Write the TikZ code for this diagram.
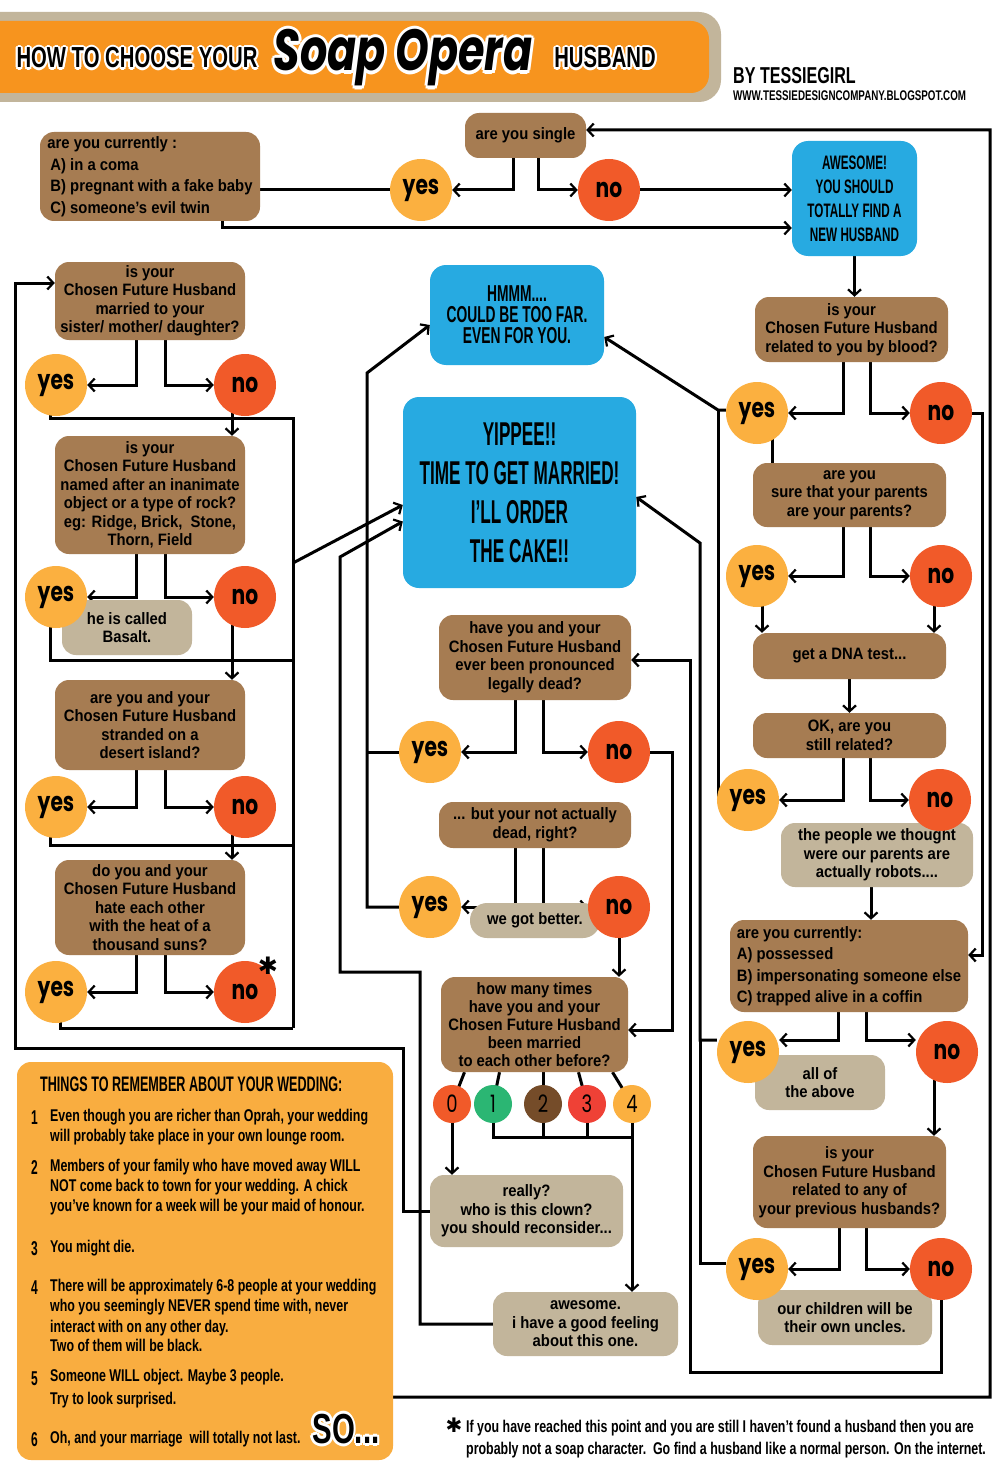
\documentclass[tikz,border=0pt]{standalone}
\usepackage{fontspec}
\setmainfont{Liberation Sans}[FakeStretch=0.9]
\newfontfamily\hfont{Liberation Sans}[FakeStretch=0.6]
\newfontfamily\hfontb{Liberation Sans}[FakeStretch=0.7]
\newfontfamily\yfont{Liberation Sans}[FakeStretch=0.52]
\newfontfamily\pfont{Liberation Sans}[FakeStretch=0.73]
\newfontfamily\ynfont{Poppins}[FakeStretch=0.75]
\newfontfamily\soapfont{Poppins}[FakeStretch=0.74]
\newfontfamily\djv{DejaVu Sans}
\usetikzlibrary{arrows.meta}
\pgfdeclarelayer{back}
\pgfdeclarelayer{bg}
\pgfsetlayers{back,bg,main}
\definecolor{qbrown}{HTML}{A67C52}
\definecolor{taupe}{HTML}{C2B59B}
\definecolor{qblue}{HTML}{27AAE1}
\definecolor{yesc}{HTML}{FBB040}
\definecolor{noc}{HTML}{F15A29}
\definecolor{banner}{HTML}{F7941E}
\definecolor{panel}{HTML}{F9AD40}
\definecolor{ngreen}{HTML}{2BB673}
\definecolor{nbrown}{HTML}{754C29}
\definecolor{nred}{HTML}{EF4136}
% outlined text: white copies around, black copy on top
\newcommand{\outlinetext}[4]{%
  \foreach \oa in {0,45,...,315}{\node[font=#3, text=white, inner sep=0pt] at ([shift={(\oa:#4)}]#2) {#1};}}
\newcommand{\pl}[4]{\node[anchor=base west, inner sep=0pt, font=\pfont\bfseries\fontsize{17}{17}\selectfont] (#1) at (#2,#3) {#4};}
\newcommand{\pn}[4]{\node[anchor=base west, inner sep=0pt, font=\hfont\bfseries\fontsize{20}{20}\selectfont] (#1) at (#2,#3) {#4};}
\tikzset{
  conn/.style={line width=3pt, line join=miter},
  arr/.style={conn, -{Straight Barb[length=6pt,width=13pt,line width=2.2pt]}},
  qbox/.style={fill=qbrown, rounded corners=14pt, align=center, inner sep=0pt, font=\bfseries\fontsize{16.5}{18.5}\selectfont},
  tbox/.style={fill=taupe, rounded corners=14pt, align=center, inner sep=0pt, font=\bfseries\fontsize{16.5}{18.5}\selectfont},
  bbox/.style={fill=qblue, rounded corners=16pt, align=center, inner sep=0pt},
  yesn/.style={circle, fill=yesc, minimum size=62pt, inner sep=0pt, font=\ynfont\bfseries\fontsize{27}{27}\selectfont},
  non/.style={circle, fill=noc, minimum size=62pt, inner sep=0pt, font=\ynfont\bfseries\fontsize{27}{27}\selectfont},
  numn/.style={circle, minimum size=38pt, inner sep=0pt, font=\ynfont\fontsize{24}{24}\selectfont},
  titlef/.style={font=\hfontb\bfseries\fontsize{29}{29}\selectfont},
  soapf/.style={font=\soapfont\bfseries\itshape\fontsize{58}{58}\selectfont},
  sof/.style={font=\hfontb\bfseries\fontsize{42}{42}\selectfont},
}
\begin{document}
\begin{tikzpicture}[x=1pt,y=-1pt]
\useasboundingbox (0,0) rectangle (1000,1471);
\begin{pgfonlayer}{back}
\fill[white] (0,0) rectangle (1000,1471);
\end{pgfonlayer}
% title banner
\fill[taupe, rounded corners=22pt] (-30,12) rectangle (721,102);
\fill[banner, rounded corners=18pt] (-30,21) rectangle (709,93);
\coordinate (tt1) at (137,58);
\coordinate (tt2) at (403,58);
\coordinate (tt3) at (605,58);
\outlinetext{HOW TO CHOOSE YOUR}{tt1}{\hfontb\bfseries\fontsize{29}{29}\selectfont}{2.2pt}
\outlinetext{Soap Opera}{tt2}{\soapfont\bfseries\itshape\fontsize{58}{58}\selectfont}{3.2pt}
\outlinetext{HUSBAND}{tt3}{\hfontb\bfseries\fontsize{29}{29}\selectfont}{2.2pt}
\node[titlef, inner sep=0pt] (title1) at (tt1) {HOW TO CHOOSE YOUR};
\node[soapf, inner sep=0pt] (title2) at (tt2) {Soap Opera};
\node[titlef, inner sep=0pt] (title3) at (tt3) {HUSBAND};
\node[anchor=base west, inner sep=0pt, font=\hfontb\bfseries\fontsize{23}{23}\selectfont] (by) at (733,84) {BY TESSIEGIRL};
\node[anchor=base west, inner sep=0pt, font=\hfontb\bfseries\fontsize{14}{14}\selectfont] (url) at (733,101) {WWW.TESSIEDESIGNCOMPANY.BLOGSPOT.COM};

% top row
\node[qbox, minimum width=121pt, minimum height=45pt] (single) at (525.5,135.5) {are you single};
\node[qbox, minimum width=220pt, minimum height=89pt, align=left, font=\bfseries\fontsize{16.5}{21.5}\selectfont] (cur1) at (150,176.5) {are you currently :\\\hspace{3pt}A) in a coma\\\hspace{3pt}B) pregnant with a fake baby\\\hspace{3pt}C) someone’s evil twin};
\node[yesn] (yes1) at (421,190) {yes};
\node[non] (no1) at (609,190) {no};
\node[bbox, minimum width=125pt, minimum height=115pt, font=\hfont\bfseries\fontsize{19.5}{24}\selectfont] (awe) at (854.5,198.5) {AWESOME!\\YOU SHOULD\\TOTALLY FIND A\\NEW HUSBAND};

% left column
\node[qbox, minimum width=190pt, minimum height=78pt] (marr) at (150,301) {is your\\Chosen Future Husband\\married to your\\sister/ mother/ daughter?};
\node[yesn] (yesM) at (56,385) {yes};
\node[non] (noM) at (245,385) {no};
\node[qbox, minimum width=190pt, minimum height=118pt] (named) at (150,495) {is your\\Chosen Future Husband\\named after an inanimate\\object or a type of rock?\\eg: Ridge, Brick,\ \ Stone,\\Thorn, Field};
\node[tbox, minimum width=130pt, minimum height=55pt] (basalt) at (127,627.5) {he is called\\Basalt.};
\node[yesn] (yesN) at (56,597) {yes};
\node[non] (noN) at (245,597) {no};
\node[qbox, minimum width=190pt, minimum height=90pt] (isl) at (150,725) {are you and your\\Chosen Future Husband\\stranded on a\\desert island?};
\node[yesn] (yesI) at (56,807) {yes};
\node[non] (noI) at (245,807) {no};
\node[qbox, minimum width=190pt, minimum height=95pt] (suns) at (150,907.5) {do you and your\\Chosen Future Husband\\hate each other\\with the heat of a\\thousand suns?};
\node[yesn] (yesH) at (56,992) {yes};
\node[non] (noH) at (245,992) {no};
\node[inner sep=0pt, font=\djv\fontsize{24}{24}\selectfont] (ast1) at (268,966) {✱};

% middle column
\node[bbox, minimum width=174pt, minimum height=100pt, font=\hfont\bfseries\fontsize{23}{21}\selectfont] (hmm) at (517,315) {HMMM....\\COULD BE TOO FAR.\\EVEN FOR YOU.};
\node[bbox, minimum width=233pt, minimum height=191pt, font=\yfont\bfseries\fontsize{33}{39}\selectfont] (yip) at (519.5,492.5) {YIPPEE!!\\TIME TO GET MARRIED!\\I’LL ORDER\\THE CAKE!!};
\node[qbox, minimum width=192pt, minimum height=85pt] (dead) at (535,657.5) {have you and your\\Chosen Future Husband\\ever been pronounced\\legally dead?};
\node[yesn] (yesD1) at (430,752) {yes};
\node[non] (noD1) at (619,752) {no};
\node[qbox, minimum width=192pt, minimum height=46pt] (notd) at (535,825) {... but your not actually\\dead, right?};
\node[tbox, minimum width=130pt, minimum height=35pt, rounded corners=17pt] (better) at (535,920.5) {we got better.};
\node[yesn] (yesD2) at (430,907) {yes};
\node[non] (noD2) at (619,907) {no};
\node[qbox, minimum width=187pt, minimum height=95pt, font=\bfseries\fontsize{16.5}{18}\selectfont] (howm) at (534.5,1024.5) {how many times\\have you and your\\Chosen Future Husband\\been married\\to each other before?};
\node[numn, fill=noc] (n0) at (452,1104) {0};
\node[numn, fill=ngreen] (n1) at (493,1104) {1};
\node[numn, fill=nbrown] (n2) at (543,1104) {2};
\node[numn, fill=nred] (n3) at (587,1104) {3};
\node[numn, fill=yesc] (n4) at (632,1104) {4};
\node[tbox, minimum width=193pt, minimum height=72pt] (really) at (526.5,1211) {really?\\who is this clown?\\you should reconsider...};
\node[tbox, minimum width=185pt, minimum height=64pt] (aw2) at (585.5,1324) {awesome.\\i have a good feeling\\about this one.};

% right column
\node[qbox, minimum width=193pt, minimum height=65pt] (blood) at (851.5,329.5) {is your\\Chosen Future Husband\\related to you by blood?};
\node[yesn] (yesB) at (757,413) {yes};
\node[non] (noB) at (941,413) {no};
\node[qbox, minimum width=193pt, minimum height=64pt] (sure) at (849.5,495) {are you\\sure that your parents\\are your parents?};
\node[yesn] (yesS) at (757,576) {yes};
\node[non] (noS) at (941,576) {no};
\node[qbox, minimum width=193pt, minimum height=46pt] (dna) at (849.5,656) {get a DNA test...};
\node[qbox, minimum width=193pt, minimum height=45pt] (ok) at (849.5,735.5) {OK, are you\\still related?};
\node[tbox, minimum width=192pt, minimum height=64pt] (robots) at (877,855) {the people we thought\\were our parents are\\actually robots....};
\node[yesn] (yesO) at (748,800) {yes};
\node[non] (noO) at (940,800) {no};
\node[qbox, minimum width=238pt, minimum height=92pt, align=left, font=\bfseries\fontsize{16.5}{21.5}\selectfont] (poss) at (849,966) {are you currently:\\A) possessed\\B) impersonating someone else\\C) trapped alive in a coffin};
\node[tbox, minimum width=130pt, minimum height=55pt] (allab) at (820,1082.5) {all of\\the above};
\node[yesn] (yesP) at (748,1052) {yes};
\node[non] (noP) at (947,1052) {no};
\node[qbox, minimum width=193pt, minimum height=92pt] (prev) at (849.5,1182) {is your\\Chosen Future Husband\\related to any of\\your previous husbands?};
\node[tbox, minimum width=174pt, minimum height=55pt] (uncles) at (845,1317.5) {our children will be\\their own uncles.};
\node[yesn] (yesR) at (757,1269) {yes};
\node[non] (noR) at (941,1269) {no};

% panel
\fill[panel, rounded corners=14pt] (17,1062) rectangle (393,1460);
\node[anchor=base west, inner sep=0pt, font=\hfont\bfseries\fontsize{21}{21}\selectfont] (ptitle) at (40,1091) {THINGS TO REMEMBER ABOUT YOUR WEDDING:};
\pn{pn1}{31}{1124}{1}
\pl{p1a}{50}{1121}{Even though you are richer than Oprah, your wedding}
\pl{p1b}{50}{1141}{will probably take place in your own lounge room.}
\pn{pn2}{31}{1174}{2}
\pl{p2a}{50}{1171}{Members of your family who have moved away WILL}
\pl{p2b}{50}{1191}{NOT come back to town for your wedding. A chick}
\pl{p2c}{50}{1211}{you’ve known for a week will be your maid of honour.}
\pn{pn3}{31}{1255}{3}
\pl{p3a}{50}{1252}{You might die.}
\pn{pn4}{31}{1294}{4}
\pl{p4a}{50}{1291}{There will be approximately 6-8 people at your wedding}
\pl{p4b}{50}{1311}{who you seemingly NEVER spend time with, never}
\pl{p4c}{50}{1332}{interact with on any other day.}
\pl{p4d}{50}{1351}{Two of them will be black.}
\pn{pn5}{31}{1385}{5}
\pl{p5a}{50}{1381}{Someone WILL object. Maybe 3 people.}
\pl{p5b}{50}{1404}{Try to look surprised.}
\pn{pn6}{31}{1446}{6}
\pl{p6a}{50}{1443}{Oh, and your marriage\ \ will totally not last.}
\coordinate (soc) at (346,1429);
\outlinetext{SO...}{soc}{\hfontb\bfseries\fontsize{42}{42}\selectfont}{2.6pt}
\node[sof, inner sep=0pt] (so) at (soc) {SO...};

% footnote
\node[inner sep=0pt, font=\djv\fontsize{20}{20}\selectfont] (ast2) at (454,1425) {✱};
\node[anchor=base west, inner sep=0pt, font=\pfont\bfseries\fontsize{17}{17}\selectfont] (fn1) at (466,1432) {If you have reached this point and you are still I haven’t found a husband then you are};
\node[anchor=base west, inner sep=0pt, font=\pfont\bfseries\fontsize{17}{17}\selectfont] (fn2) at (466,1454) {probably not a soap character.\ \ Go find a husband like a normal person. On the internet.};

\begin{pgfonlayer}{bg}
% top
\draw[arr] ([xshift=-12.5pt]single.south) |- (yes1);
\draw[arr] ([xshift=12.5pt]single.south) |- (no1);
\draw[conn] (cur1.east |- yes1) -- (yes1);
\draw[arr] (no1) -- (awe.west |- no1);
\coordinate (t1) at (222,228);
\draw[arr] (t1 |- cur1.south) -- (t1) -- (t1 -| awe.west);
% big loop
\coordinate (L1) at (370,1397);
\coordinate (L2) at (990,1397);
\coordinate (L3) at (990,130);
\draw[arr] ([shift={(12pt,14pt)}]so.center) -- (L1) -- (L2) -- (L3) -- (L3 -| single.east);
% right column
\draw[arr] (awe.south) -- (awe.south |- blood.north);
\draw[arr] ([xshift=-8.5pt]blood.south) |- (yesB);
\draw[arr] ([xshift=18.5pt]blood.south) |- (noB);
\coordinate (h1) at (718,410);
\draw[arr] (yesB.west |- h1) -- (h1) -- ([yshift=-22pt]hmm.east);
\draw[conn] (yesO.west) -| (h1);
\draw[conn] ([xshift=15pt]yesB.center) -- ([xshift=15pt]yesB.center |- sure.north);
\coordinate (g1) at (982,413);
\draw[arr] (noB.east) -- (g1) |- ([yshift=11pt]poss.east);
\draw[arr] ([xshift=-6.5pt]sure.south) |- (yesS);
\draw[arr] ([xshift=20.5pt]sure.south) |- (noS);
\draw[arr] ([xshift=5pt]yesS.center) -- ([xshift=5pt]yesS.center |- dna.north);
\draw[arr] ([xshift=-7pt]noS.center) -- ([xshift=-7pt]noS.center |- dna.north);
\draw[arr] (dna.south) -- (dna.south |- ok.north);
\draw[arr] ([xshift=-6.5pt]ok.south) |- (yesO);
\draw[arr] ([xshift=20.5pt]ok.south) |- (noO);
\draw[arr] ([xshift=-6pt]robots.south) -- ([xshift=-6pt]robots.south |- poss.north);
\coordinate (p1) at (838,1040);
\coordinate (p2) at (866,1040);
\draw[arr] (p1 |- poss.south) -- (p1) -- (p1 -| yesP.east);
\draw[arr] (p2 |- poss.south) -- (p2) -- (p2 -| noP.west);
\coordinate (y1) at (700,1040);
\coordinate (y2) at (700,543);
\coordinate (y3) at (700,1263);
\draw[arr] (yesP.west |- y1) -- (y1) -- (y2) -- ([yshift=-4.5pt]yip.east);
\draw[conn] (y1) -- (y3) -- (y3 -| yesR.west);
\draw[arr] ([xshift=-13pt]noP.center) -- ([xshift=-13pt]noP.center |- prev.north);
\draw[arr] ([xshift=-10.5pt]prev.south) |- (yesR);
\draw[arr] ([xshift=16.5pt]prev.south) |- (noR);
\coordinate (q1) at (690,1372);
\coordinate (q2) at (690,660);
\draw[arr] (noR.center) |- (q1) -- (q2) -- (q2 -| dead.east);
% middle
\draw[arr] ([xshift=-20pt]dead.south) |- (yesD1);
\draw[arr] ([xshift=8pt]dead.south) |- (noD1);
\draw[arr] ([xshift=-20pt]notd.south) |- (yesD2);
\draw[arr] ([xshift=8pt]notd.south) |- (noD2);
\coordinate (m1) at (367,373);
\draw[arr] (yesD2) -| (m1) -- ([yshift=-10pt]hmm.west);
\draw[conn] (yesD1) -- (yesD1 -| m1);
\draw[arr] (noD2) -- (noD2 |- howm.north);
\coordinate (k1) at (672,752);
\draw[arr] (noD1) -- (k1) |- ([yshift=-5.5pt]howm.east);
\foreach \nn/\dx in {n0/-70,n1/-35,n2/8.5,n3/44,n4/78} \draw[conn] ([xshift=\dx pt]howm.south) -- (\nn.center);
\draw[arr] (n0) -- (n0 |- really.north);
\coordinate (nb) at (632,1137);
\draw[conn] (n1.center) |- (nb);
\draw[conn] (n2.center) -- (n2 |- nb);
\draw[conn] (n3.center) -- (n3 |- nb);
\draw[arr] (n4.center) -- (n4 |- aw2.north);
\coordinate (a1) at (420,972);
\coordinate (a2) at (340,972);
\coordinate (a3) at (340,557);
\draw[arr] (aw2) -| (a1) -- (a2) -- (a3) -- ([yshift=-29pt]yip.west);
\coordinate (r1) at (403,1048);
\coordinate (r2) at (15,1048);
\coordinate (r3) at (15,283);
\draw[arr] (really) -| (r1) -- (r2) -- (r3) -- (r3 -| marr.west);
% left column
\draw[arr] ([xshift=-14pt]marr.south) |- (yesM);
\draw[arr] ([xshift=15pt]marr.south) |- (noM);
\draw[arr] ([xshift=-14pt]named.south) |- (yesN);
\draw[arr] ([xshift=15pt]named.south) |- (noN);
\draw[arr] ([xshift=-14pt]isl.south) |- (yesI);
\draw[arr] ([xshift=15pt]isl.south) |- (noI);
\draw[arr] ([xshift=-14pt]suns.south) |- (yesH);
\draw[arr] ([xshift=15pt]suns.south) |- (noH);
\draw[arr] ([xshift=-13pt]noM.center) -- ([xshift=-13pt]noM.center |- named.north);
\draw[arr] ([xshift=-13pt]noN.center) -- ([xshift=-13pt]noN.center |- isl.north);
\draw[arr] ([xshift=-13pt]noI.center) -- ([xshift=-13pt]noI.center |- suns.north);
\coordinate (b1) at (293,418);
\coordinate (b2) at (293,660);
\coordinate (b3) at (293,845);
\coordinate (b4) at (293,1028);
\coordinate (b5) at (293,563);
\draw[conn] ([xshift=-6pt]yesM.center) |- (b1) -- (b4);
\draw[conn] ([xshift=-6pt]yesN.center) |- (b2);
\draw[conn] ([xshift=-6pt]yesI.center) |- (b3);
\draw[conn] ([xshift=4pt]yesH.center) |- (b4);
\draw[arr] (b5) -- ([yshift=-12.5pt]yip.west);
\end{pgfonlayer}
\end{tikzpicture}
\end{document}
